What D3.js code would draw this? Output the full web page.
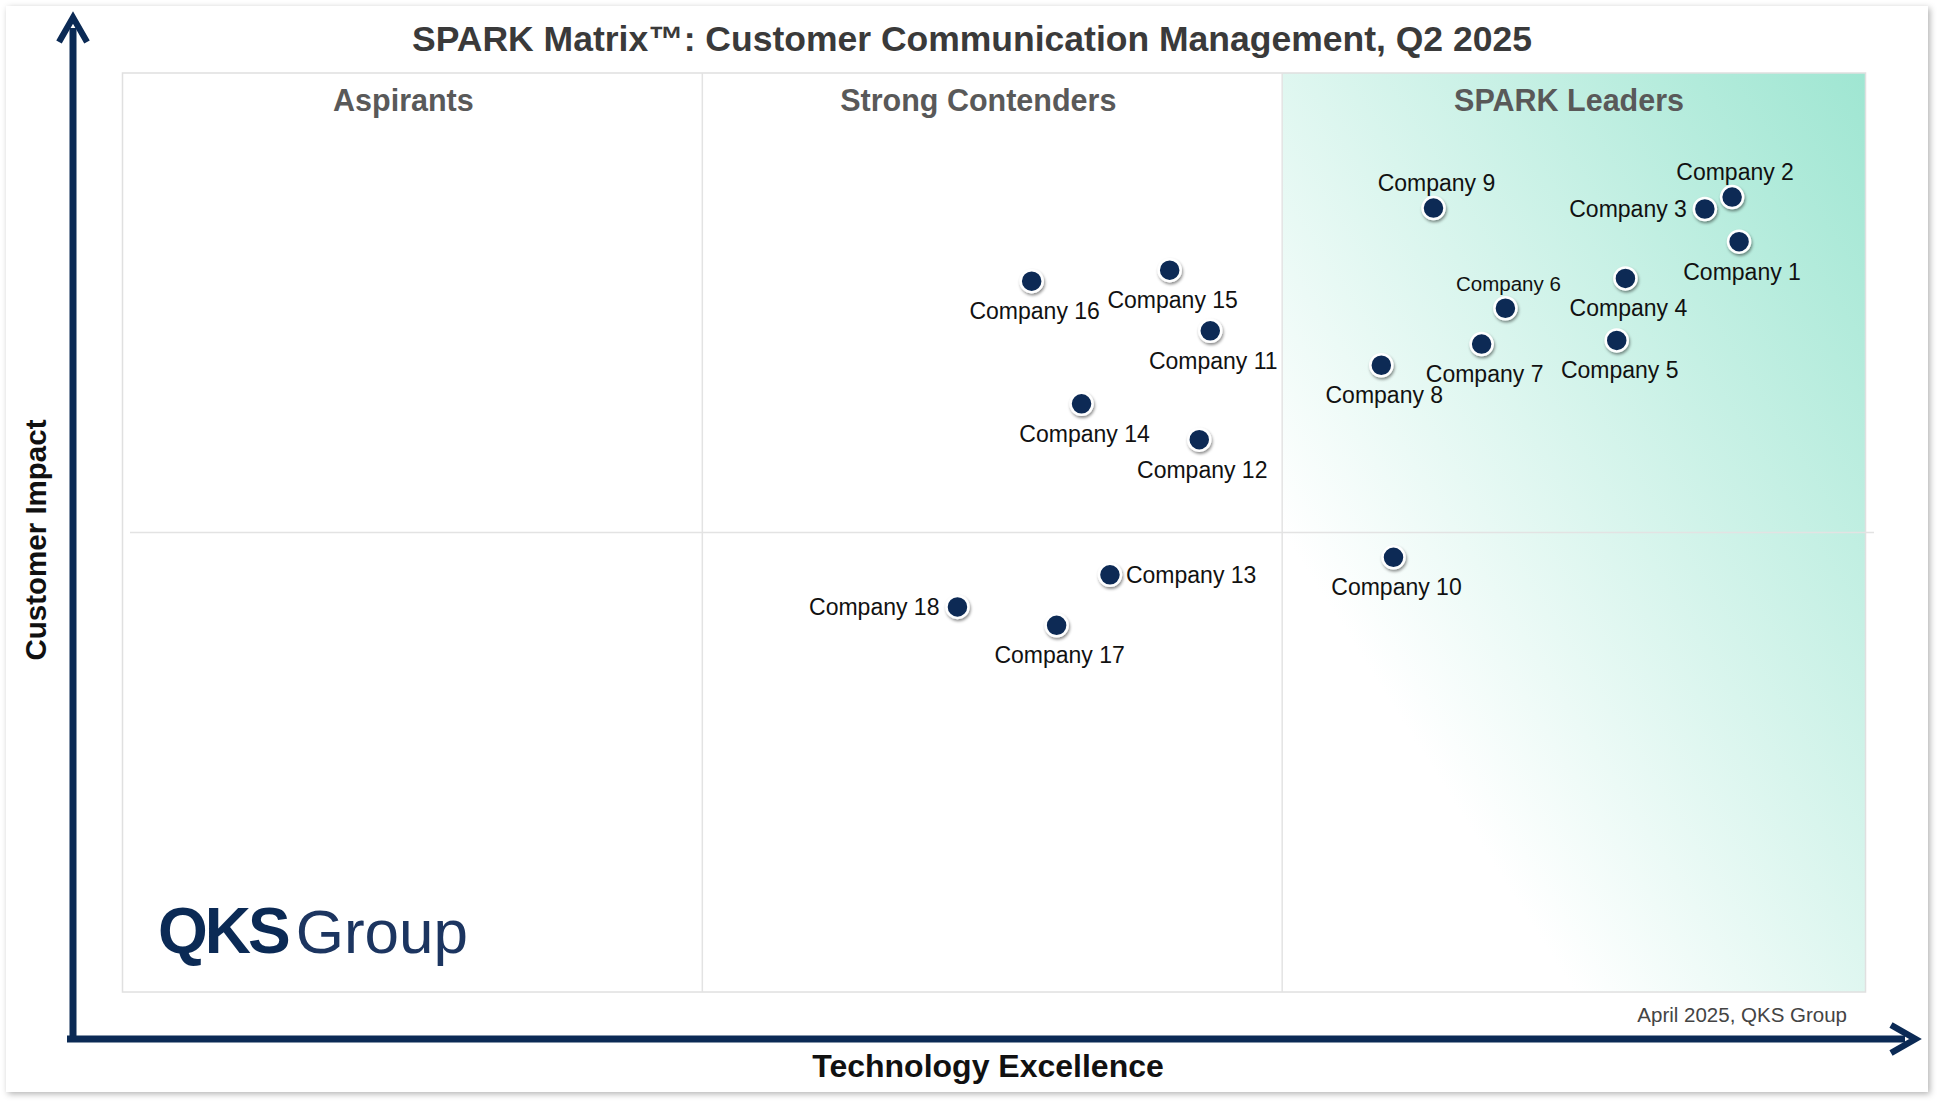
<!DOCTYPE html>
<html><head><meta charset="utf-8">
<script src="https://cdn.jsdelivr.net/npm/d3@7"></script>
<style>body{margin:0;background:#fff}svg{display:block}text{font-family:Arial,"Liberation Sans",sans-serif}</style>
</head><body>
<script>
const companies = ["Company 1","Company 2","Company 3","Company 4","Company 5","Company 6","Company 7","Company 8","Company 9","Company 10","Company 11","Company 12","Company 13","Company 14","Company 15","Company 16","Company 17","Company 18"];
const techExcellence = [2.788,2.776,2.729,2.592,2.577,2.385,2.344,2.171,2.261,2.192,1.876,1.857,1.703,1.654,1.806,1.568,1.611,1.440];
const customerImpact = [1.633,1.730,1.704,1.553,1.418,1.488,1.410,1.364,1.706,0.946,1.439,1.202,0.908,1.280,1.571,1.547,0.798,0.838];
const labelSide = ["below","above","left","below","below","above","below","below","above","below","below","below","right","below","below","below","below","left"];
const quadrants = ["Aspirants","Strong Contenders","SPARK Leaders"];

const W=1940,H=1102;
const svg=d3.select("body").append("svg").attr("width",W).attr("height",H);
const defs=svg.append("defs");
const fs=defs.append("filter").attr("id","fshadow").attr("x","-5%").attr("y","-5%").attr("width","110%").attr("height","110%");
fs.append("feDropShadow").attr("dx",2).attr("dy",2).attr("stdDeviation",3).attr("flood-color","#000").attr("flood-opacity",0.3);
const ds=defs.append("filter").attr("id","dshadow").attr("x","-50%").attr("y","-50%").attr("width","200%").attr("height","200%");
ds.append("feDropShadow").attr("dx",1).attr("dy",2).attr("stdDeviation",1.5).attr("flood-color","#000").attr("flood-opacity",0.45);
const g=defs.append("linearGradient").attr("id","lead").attr("x1","0").attr("y1","1").attr("x2","1").attr("y2","0");
g.append("stop").attr("offset","0.25").attr("stop-color","#ffffff");
g.append("stop").attr("offset","1").attr("stop-color","#9fe6d2");
const mk=defs.append("marker").attr("id","arr").attr("viewBox","0 0 10 10").attr("refX",5).attr("refY",5).attr("markerWidth",5).attr("markerHeight",5).attr("orient","auto-start-reverse").attr("markerUnits","strokeWidth");
mk.append("path").attr("d","M1,1 L8,5 L1,9").attr("fill","none").attr("stroke","#0b2a55").attr("stroke-width",1.8);

svg.append("rect").attr("x",6).attr("y",6).attr("width",1922).attr("height",1086).attr("fill","#fff").attr("filter","url(#fshadow)");

const x=d3.scaleLinear().domain([0,3]).range([122.5,1862]);
const y=d3.scaleLinear().domain([0,2]).range([992,73]);

svg.append("rect").attr("x",x(2)).attr("y",y(2)).attr("width",1865.5-x(2)).attr("height",y(0)-y(2)).attr("fill","url(#lead)");
svg.append("rect").attr("x",122.5).attr("y",73).attr("width",1743).attr("height",919).attr("fill","none").attr("stroke","#e0e0e0").attr("stroke-width",1.5);
[1,2].forEach(v=>svg.append("line").attr("x1",x(v)).attr("x2",x(v)).attr("y1",73).attr("y2",992).attr("stroke","#e3e3e3").attr("stroke-width",1.5));
svg.append("line").attr("x1",130).attr("x2",1874).attr("y1",y(1)).attr("y2",y(1)).attr("stroke","#e3e3e3").attr("stroke-width",1.5);

quadrants.forEach((q,i)=>svg.append("text").attr("x",x(i+0.5)-(i===0?9:i===1?14:3)).attr("y",111).attr("text-anchor","middle").attr("font-size",30.5).attr("font-weight","bold").attr("fill","#595959").text(q));

svg.append("text").attr("x",972).attr("y",51).attr("text-anchor","middle").attr("font-size",35.5).attr("font-weight","bold").attr("fill","#3a3a3a").text("SPARK Matrix™: Customer Communication Management, Q2 2025");

svg.append("line").attr("x1",73).attr("y1",1039).attr("x2",73).attr("y2",28).attr("stroke","#0b2a55").attr("stroke-width",7).attr("marker-end","url(#arr)");
svg.append("line").attr("x1",67).attr("y1",1039).attr("x2",1905).attr("y2",1039).attr("stroke","#0b2a55").attr("stroke-width",7).attr("marker-end","url(#arr)");
svg.append("text").attr("transform","translate(46,540) rotate(-90)").attr("text-anchor","middle").attr("font-size",29.5).attr("font-weight","bold").attr("fill","#111").text("Customer Impact");
svg.append("text").attr("x",988).attr("y",1077).attr("text-anchor","middle").attr("font-size",32).attr("font-weight","bold").attr("fill","#111").text("Technology Excellence");
svg.append("text").attr("x",1847).attr("y",1022).attr("text-anchor","end").attr("font-size",20.5).attr("fill","#444").text("April 2025, QKS Group");

const logo=svg.append("text").attr("x",158).attr("y",953).attr("fill","#0b2a55");
logo.append("tspan").attr("font-size",64).attr("font-weight","bold").attr("letter-spacing",-3).text("QKS");
logo.append("tspan").attr("font-size",62).attr("dx",8).attr("fill","#1c3560").text("Group");

const data=companies.map((c,i)=>({c,xv:techExcellence[i],yv:customerImpact[i],side:labelSide[i]}));
const pg=svg.append("g");
pg.selectAll("circle").data(data).join("circle").attr("cx",d=>x(d.xv)).attr("cy",d=>y(d.yv)).attr("r",11)
  .attr("fill","#0b2a55").attr("stroke","#fff").attr("stroke-width",2.5).attr("filter","url(#dshadow)");
pg.selectAll("text").data(data).join("text")
  .attr("x",d=>x(d.xv)+(d.side==="left"?-18:d.side==="right"?16:3))
  .attr("y",d=>y(d.yv)+(d.side==="below"?38:d.side==="above"?-17:8))
  .attr("text-anchor",d=>d.side==="left"?"end":d.side==="right"?"start":"middle")
  .attr("font-size",d=>d.c==="Company 6"?20.5:23).attr("fill","#111").text(d=>d.c);
</script>
</body></html>
